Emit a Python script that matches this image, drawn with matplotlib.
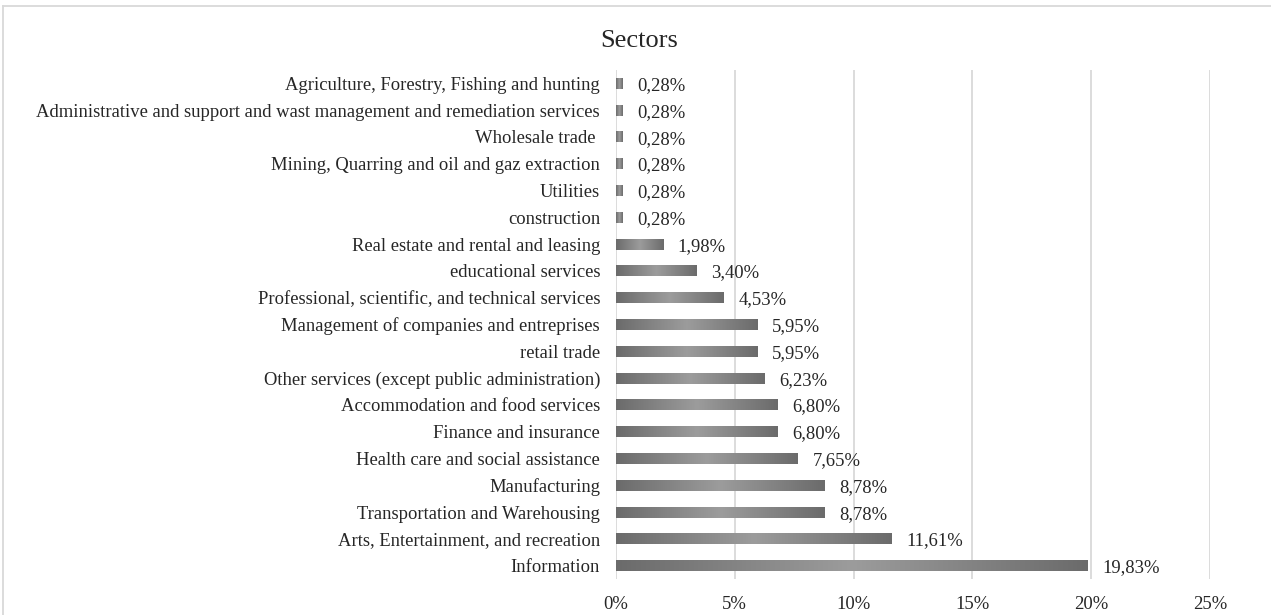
import numpy as np
import matplotlib.pyplot as plt
from matplotlib.colors import LinearSegmentedColormap
from matplotlib.lines import Line2D

sectors = [
    "Information",
    "Arts, Entertainment, and recreation",
    "Transportation and Warehousing",
    "Manufacturing",
    "Health care and social assistance",
    "Finance and insurance",
    "Accommodation and food services",
    "Other services (except public administration)",
    "retail trade",
    "Management of companies and entreprises",
    "Professional, scientific, and technical services",
    "educational services",
    "Real estate and rental and leasing",
    "construction",
    "Utilities",
    "Mining, Quarring and oil and gaz extraction",
    "Wholesale trade ",
    "Administrative and support and wast management and remediation services",
    "Agriculture, Forestry, Fishing and hunting",
]
shares = [19.83, 11.61, 8.78, 8.78, 7.65, 6.80, 6.80, 6.23, 5.95, 5.95,
          4.53, 3.40, 1.98, 0.28, 0.28, 0.28, 0.28, 0.28, 0.28]
xticks = [0, 5, 10, 15, 20, 25]

plt.rcParams['font.family'] = ['Liberation Serif', 'DejaVu Serif']

W, H = 1271, 615
fig = plt.figure(figsize=(W / 100, H / 100), dpi=100)
ax = fig.add_axes([616 / W, 1 - 579 / H, (1210 - 616) / W, (579 - 70) / H])

# grey gradient: darker at both ends of each bar, lighter in the middle
cmap = LinearSegmentedColormap.from_list("bar", ["#6b6b6b", "#9c9c9c", "#6b6b6b"])
grad = np.linspace(0, 1, 256).reshape(1, -1)
bar_h = 0.41

y = np.arange(len(sectors))
bars = ax.barh(y, shares, height=bar_h, color="none", edgecolor="none", zorder=2)
for rect in bars:
    x0, y0 = rect.get_x(), rect.get_y()
    w, h = rect.get_width(), rect.get_height()
    im = ax.imshow(grad, cmap=cmap, aspect="auto", extent=(x0, x0 + w, y0, y0 + h),
                   zorder=2, interpolation="bilinear")
    im.set_clip_path(rect)

for yi, v in zip(y, shares):
    ax.text(v + 0.62, yi - 0.08, f"{v:.2f}%".replace(".", ","), va="center",
            ha="left", fontsize=13.4, color="#262626")

ax.set_xlim(0, 25)
ax.set_ylim(-0.5, len(sectors) - 0.5)
ax.set_xticks(xticks)
ax.set_xticklabels([f"{t}%" for t in xticks], fontsize=13.4, color="#262626")
ax.set_yticks(y)
ax.set_yticklabels(sectors, fontsize=13.4, color="#262626")
ax.tick_params(axis="both", length=0)
ax.tick_params(axis="x", pad=12)
ax.tick_params(axis="y", pad=11.5)
ax.grid(axis="x", color="#d9d9d9", linewidth=1.3, zorder=0)
ax.set_axisbelow(True)
for s in ax.spines.values():
    s.set_visible(False)

fig.text(639 / W, 1 - 41 / H, "Sectors", ha="center", va="center", fontsize=19, color="#262626")

# light frame along the top and left of the chart area
fig.lines.append(Line2D([3 / W, 1], [1 - 6 / H, 1 - 6 / H], transform=fig.transFigure,
                        color="#d9d9d9", linewidth=1.3))
fig.lines.append(Line2D([3 / W, 3 / W], [0, 1 - 6 / H], transform=fig.transFigure,
                        color="#d9d9d9", linewidth=1.3))

fig.savefig("out.png", dpi=100)
